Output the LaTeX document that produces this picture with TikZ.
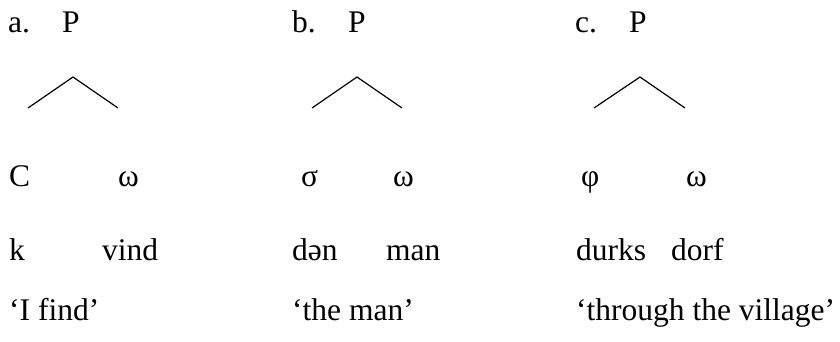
\documentclass[tikz,border=0pt]{standalone}
\usepackage{fontspec}
\setmainfont{Liberation Serif}
\begin{document}
\begin{tikzpicture}[x=1pt,y=-1pt,
  lbl/.style={anchor=base west,inner sep=0pt,font=\fontsize{31.5}{36}\selectfont},
  branch/.style={line width=1.2pt}]
\useasboundingbox (0,0) rectangle (840,341);
% a.
\node[lbl] (la) at (8,32) {a.};
\node[lbl] (pa) at (62,32) {P};
\coordinate (ta) at (73,77);
\coordinate (la1) at (28,108);
\coordinate (ra1) at (118,108);
\draw[branch] (la1) -- (ta) -- (ra1);
\node[lbl] (ca) at (9,186) {C};
\node[lbl] (wa) at (118,186) {ω};
\node[lbl] (ka) at (9,260) {k};
\node[lbl] (va) at (102,260) {vind};
\node[lbl] (ga) at (9,320) {‘I find’};
% b.
\node[lbl] (lb) at (292,32) {b.};
\node[lbl] (pb) at (348,32) {P};
\coordinate (tb) at (357,77);
\coordinate (lb1) at (312,108);
\coordinate (rb1) at (402,108);
\draw[branch] (lb1) -- (tb) -- (rb1);
\node[lbl] (sb) at (301,186) {σ};
\node[lbl] (wb) at (393,186) {ω};
\node[lbl] (db) at (292,260) {dən};
\node[lbl] (mb) at (386,260) {man};
\node[lbl] (gb) at (292,320) {‘the man’};
% c.
\node[lbl] (lc) at (575,32) {c.};
\node[lbl] (pc) at (629,32) {P};
\coordinate (tc) at (640,77);
\coordinate (lc1) at (594,108);
\coordinate (rc1) at (685,108);
\draw[branch] (lc1) -- (tc) -- (rc1);
\node[lbl] (fc) at (581,186) {φ};
\node[lbl] (wc) at (686,186) {ω};
\node[lbl] (dc) at (576,260) {durks};
\node[lbl] (oc) at (671,260) {dorf};
\node[lbl] (gc) at (576,320) {‘through the village’};
\end{tikzpicture}
\end{document}
